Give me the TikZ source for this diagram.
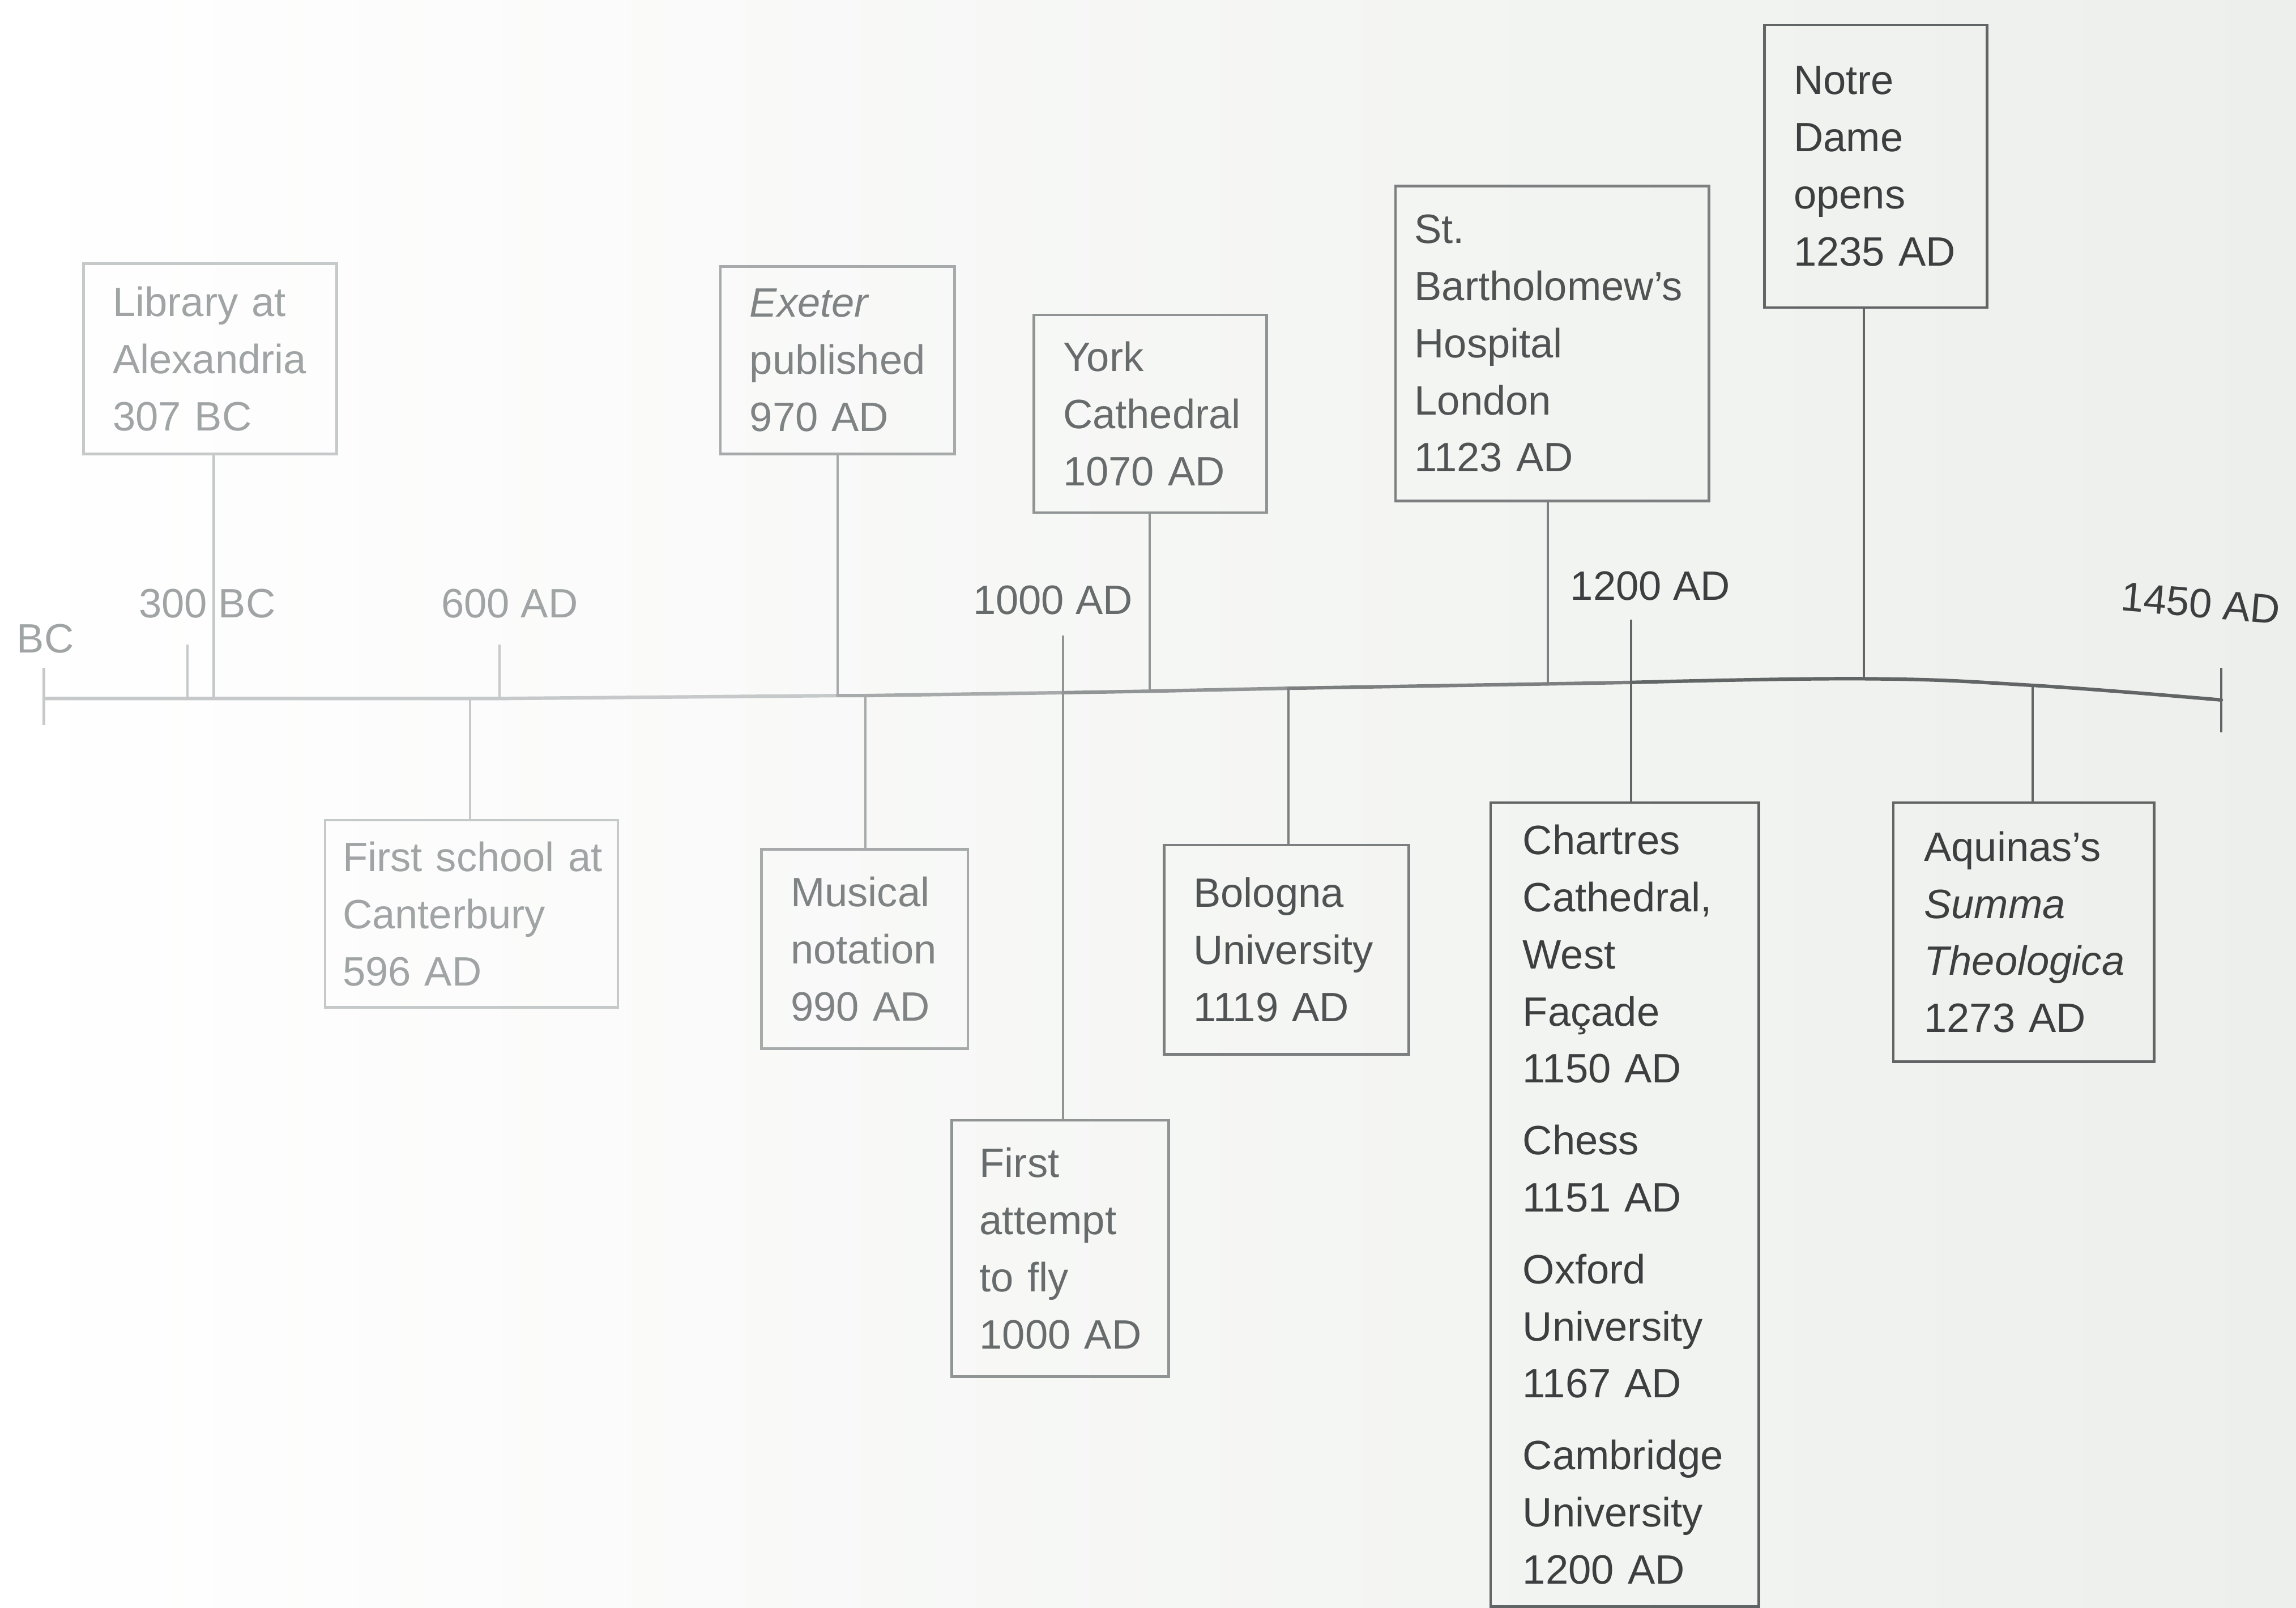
\documentclass[tikz,border=0pt]{standalone}
\usepackage{fontspec}
\setmainfont{Liberation Sans}
\newcommand{\evfont}{\fontsize{28pt}{39pt}\selectfont\hyphenpenalty=10000\relax}
\definecolor{bgR}{HTML}{ECEFEB}
\definecolor{gA}{HTML}{A0A4A5}
\definecolor{lA}{HTML}{C5C9C9}
\definecolor{gB}{HTML}{7F8384}
\definecolor{lB}{HTML}{A6AAAA}
\definecolor{gC}{HTML}{676B6C}
\definecolor{lC}{HTML}{909494}
\definecolor{gD}{HTML}{505354}
\definecolor{lD}{HTML}{7C7F7F}
\definecolor{gE}{HTML}{3C3E3F}
\definecolor{lE}{HTML}{626565}
\begin{document}
\begin{tikzpicture}[x=1pt,y=-1pt,
  evbox/.style 2 args={draw=#1,text=#2,rectangle,line width=1.8pt,inner xsep=20pt,inner ysep=0pt,align=left,font=\evfont},
  conn/.style={draw=#1,line width=1.6pt},
  axisseg/.style={draw=#1,line width=2.4pt,line cap=round},
  lbl/.style={font=\evfont,inner sep=0pt,text=#1}]
\shade[left color=white,right color=bgR] (0,0) rectangle (1568,1098);
\useasboundingbox (0,0) rectangle (1568,1098);

% axis points
\coordinate (ax0) at (30,477);
\coordinate (ax300) at (128,477);
\coordinate (axLib) at (146,477);
\coordinate (axSch) at (321,477);
\coordinate (ax600) at (341,477);
\coordinate (axExe) at (572,475);
\coordinate (axMus) at (591,475);
\coordinate (ax1000) at (726,473);
\coordinate (axYork) at (785,472);
\coordinate (axBol) at (880,470);
\coordinate (axBart) at (1057,467);
\coordinate (ax1200) at (1114,466);
\coordinate (axNotre) at (1273,463.5);
\coordinate (axAq) at (1388,468);
\coordinate (axEnd) at (1517,478);
% tick ends
\coordinate (tL1) at (30,456);
\coordinate (tL2) at (30,495);
\coordinate (t300) at (128,440);
\coordinate (t600) at (341,440);
\coordinate (t1000) at (726,434);
\coordinate (t1200) at (1114,423);
\coordinate (tR1) at (1517,456);
\coordinate (tR2) at (1517,500);

% axis
\draw[axisseg=lA] (ax0) -- (ax300) -- (axLib) -- (axSch) -- (ax600) -- (axExe);
\draw[axisseg=lB] (axExe) -- (axMus) -- (ax1000);
\draw[axisseg=lC] (ax1000) -- (axYork) -- (axBol);
\draw[axisseg=lD] (axBol) -- (axBart) -- (ax1200);
\draw[axisseg=lE] plot[smooth,tension=0.7] coordinates {(ax1200) (axNotre) (axAq) (axEnd)};
\draw[conn=lA] (tL1) -- (tL2);
\draw[conn=lE] (tR1) -- (tR2);
\draw[conn=lA] (t300) -- (ax300);
\draw[conn=lA] (t600) -- (ax600);

% scale labels
\node[lbl=gA] (lbBC) at (31,436) {BC};
\node[lbl=gA] (lb300) at (141.5,412) {300 BC};
\node[lbl=gA] (lb600) at (348,412) {600 AD};
\node[lbl=gC] (lb1000) at (719,410) {1000 AD};
\node[lbl=gE] (lb1200) at (1127,400) {1200 AD};
\node[lbl=gE,rotate=-5] (lb1450) at (1503,412) {1450 AD};

% boxes above
\node[evbox={lA}{gA},text width=133pt,minimum height=130pt] (lib) at (143.5,245) {Library~at\\Alexandria\\307~BC};
\node[evbox={lB}{gB},text width=120pt,minimum height=128pt] (exe) at (572,246) {\textit{Exeter}\\published\\970~AD};
\node[evbox={lC}{gC},text width=119pt,minimum height=135pt] (york) at (785.5,282.5) {York\\Cathedral\\1070~AD};
\node[evbox={lD}{gD},inner xsep=13pt,text width=188pt,minimum height=215pt] (bart) at (1060,234.5) {St.\\Bartholomew's\\Hospital\\London\\1123~AD};
\node[evbox={lE}{gE},text width=112pt,minimum height=193pt] (notre) at (1281,113.5) {Notre\\Dame\\opens\\1235~AD};

% boxes below
\node[evbox={lA}{gA},inner xsep=12pt,text width=176pt,minimum height=128pt] (school) at (322,624) {First~school~at\\Canterbury\\596~AD};
\node[evbox={lB}{gB},text width=101pt,minimum height=136pt] (music) at (590.5,648) {Musical\\notation\\990~AD};
\node[evbox={lC}{gC},inner xsep=19pt,text width=110pt,minimum height=175pt] (fly) at (724,852.5) {First\\attempt\\to~fly\\1000~AD};
\node[evbox={lD}{gD},text width=127pt,minimum height=143pt] (bol) at (878.5,648.5) {Bologna\\University\\1119~AD};
\node[evbox={lE}{gE},inner xsep=22pt,text width=139pt,minimum height=549pt] (chart) at (1109.5,822.5) {Chartres\\Cathedral,\\West\\Façade\\1150~AD\\[10pt]Chess\\1151~AD\\[10pt]Oxford\\University\\1167~AD\\[10pt]Cambridge\\University\\1200~AD};
\node[evbox={lE}{gE},inner xsep=21pt,text width=136pt,minimum height=177pt] (aq) at (1382,636.5) {Aquinas's\\\textit{Summa}\\\textit{Theologica}\\1273~AD};

% connectors
\draw[conn=lA] (lib.south -| axLib) -- (axLib);
\draw[conn=lB] (exe.south -| axExe) -- (axExe);
\draw[conn=lC] (york.south -| axYork) -- (axYork);
\draw[conn=lD] (bart.south -| axBart) -- (axBart);
\draw[conn=lE] (notre.south -| axNotre) -- (axNotre);
\draw[conn=lA] (axSch) -- (school.north -| axSch);
\draw[conn=lB] (axMus) -- (music.north -| axMus);
\draw[conn=lC] (t1000) -- (fly.north -| t1000);
\draw[conn=lD] (axBol) -- (bol.north -| axBol);
\draw[conn=lE] (t1200) -- (chart.north -| t1200);
\draw[conn=lE] (axAq) -- (aq.north -| axAq);
\end{tikzpicture}
\end{document}
